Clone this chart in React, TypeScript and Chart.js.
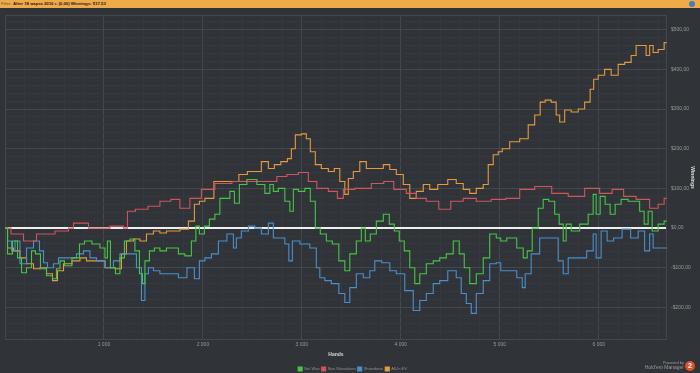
import React, { useEffect, useRef } from "react";
import { Chart, registerables } from "chart.js";

Chart.register(...registerables);

// [hands, winnings $]
const netWon: [number, number][] = [
  [0, 0], [51, -65], [101, -32.5], [152, -75], [182, -112.5], [253, -100], [283, -57.5], [333, -65],
  [384, -102.5], [455, -120], [505, -127.5], [535, -102.5], [576, -82.5], [626, -95], [727, -75],
  [778, -40], [828, -32.5], [929, -40], [990, -50], [1030, -75], [1040, -32.5], [1091, -100],
  [1141, -115], [1182, -75], [1232, -32.5], [1293, -27.5], [1333, -57.5], [1384, -115], [1394, -140],
  [1434, -82.5], [1485, -57.5], [1535, -50], [1596, -57.5], [1667, -50], [1717, -50], [1788, -65],
  [1848, -70], [1919, -32.5], [1939, 5], [1990, -15], [2040, 5], [2091, 22.5], [2151, 35], [2192, 75],
  [2252, 75], [2293, 92.5], [2343, 62.5], [2394, 110], [2495, 122.5], [2596, 110], [2656, 87.5],
  [2697, 110], [2727, 92.5], [2798, 100], [2858, 67.5], [2899, 42.5], [2929, 97.5], [3000, 92.5],
  [3060, 100], [3111, 67.5], [3161, 0], [3212, -15], [3283, -32.5], [3333, -40], [3414, -82.5],
  [3454, -107.5], [3515, -65], [3586, -32.5], [3616, 0], [3666, -32.5], [3717, -15], [3788, 17.5],
  [3858, 35], [3909, 10], [3959, -7.5], [4010, -32.5], [4060, -57.5], [4121, -100], [4161, -140],
  [4222, -115], [4293, -90], [4363, -82.5], [4424, -75], [4495, -65], [4565, -32.5], [4616, -65],
  [4666, -100], [4727, -140], [4798, -115], [4868, -75], [4929, -15], [5000, -25], [5020, -32.5],
  [5121, -25], [5222, -50], [5252, -75], [5303, -57.5], [5353, 0], [5424, 50], [5454, 72.5],
  [5535, 67.5], [5575, 35], [5626, 10], [5656, -32.5], [5686, 10], [5757, -7.5], [5858, 10],
  [5929, 35], [5959, 85], [5989, 35], [6040, 80], [6090, 60], [6141, 35], [6191, 60], [6262, 72.5],
  [6333, 67.5], [6393, 67.5], [6434, 42.5], [6484, 10], [6515, 42.5], [6565, -7.5], [6636, 10],
  [6686, 17.5],
];

const nonShowdown: [number, number][] = [
  [0, 0], [120, -15], [253, -32.5], [384, -15], [626, -7.5], [657, 0], [727, 12.5], [960, 0],
  [1162, 5], [1232, 0], [1242, 42.5], [1394, 47.5], [1495, 55], [1636, 67.5], [1717, 72.5],
  [1818, 50], [1919, 75], [2050, 97.5], [2192, 112.5], [2394, 117.5], [2555, 117.5], [2697, 117.5],
  [2798, 130], [2899, 135], [3030, 140], [3101, 117.5], [3202, 100], [3333, 92.5], [3384, 75],
  [3454, 97.5], [3616, 100], [3788, 112.5], [3868, 117.5], [3990, 97.5], [4121, 87.5], [4192, 75],
  [4323, 67.5], [4444, 47.5], [4565, 67.5], [4697, 75], [4828, 67.5], [5000, 72.5], [5121, 75],
  [5282, 97.5], [5424, 105], [5626, 87.5], [5757, 80], [5959, 100], [6060, 87.5], [6212, 97.5],
  [6292, 80], [6464, 72.5], [6565, 50], [6636, 60], [6686, 75],
];

const showdown: [number, number][] = [
  [0, 0], [51, -32.5], [81, -57.5], [121, -32.5], [182, -90], [253, -50], [323, -32.5], [374, -57.5],
  [404, -87.5], [455, -100], [525, -90], [556, -75], [687, -75], [758, -65], [828, -57.5], [889, -75],
  [960, -82.5], [1061, -100], [1131, -82.5], [1192, -65], [1293, -65], [1364, -100], [1394, -182.5],
  [1434, -115], [1465, -100], [1535, -107.5], [1596, -115], [1717, -115], [1788, -125], [1889, -100],
  [1939, -127.5], [1990, -82.5], [2050, -75], [2121, -65], [2192, -32.5], [2293, -15], [2323, -50],
  [2353, -25], [2424, -7.5], [2495, 5], [2555, 0], [2626, -15], [2697, 12.5], [2727, -25], [2798, -25],
  [2858, -40], [2879, -82.5], [2929, -32.5], [3030, -40], [3131, -50], [3161, -100], [3202, -125],
  [3262, -132.5], [3333, -140], [3414, -165], [3454, -187.5], [3515, -150], [3586, -115], [3656, -125],
  [3717, -107.5], [3757, -82.5], [3858, -87.5], [3919, -107.5], [3990, -115], [4090, -157.5],
  [4161, -207.5], [4222, -182.5], [4293, -165], [4363, -140], [4424, -132.5], [4525, -107.5],
  [4595, -125], [4626, -165], [4697, -190], [4727, -215], [4798, -165], [4868, -132.5], [4929, -90],
  [5000, -87.5], [5020, -107.5], [5121, -107.5], [5222, -125], [5232, -150], [5282, -115], [5353, -65],
  [5454, -25], [5555, -25], [5626, -82.5], [5656, -115], [5727, -75], [5828, -75], [5929, -57.5],
  [5959, -15], [5989, -75], [6060, -7.5], [6110, -32.5], [6191, -25], [6282, -2.5], [6363, -25],
  [6434, -7.5], [6494, -57.5], [6535, -15], [6565, -50], [6690, -50],
];

const allInEV: [number, number][] = [
  [0, 0], [51, -50], [121, -57.5], [182, -75], [253, -90], [323, -102.5], [384, -100], [455, -115],
  [505, -132.5], [556, -107.5], [626, -90], [727, -82.5], [788, -75], [859, -82.5], [960, -82.5],
  [1061, -100], [1162, -102.5], [1192, -65], [1263, -32.5], [1333, -27.5], [1394, -32.5], [1465, -15],
  [1535, -7.5], [1596, -12.5], [1667, -7.5], [1717, -7.5], [1818, -2.5], [1889, 17.5], [1939, 60],
  [1990, 67.5], [2050, 75], [2172, 117.5], [2242, 117.5], [2323, 117.5], [2404, 135], [2495, 142.5],
  [2555, 142.5], [2626, 167.5], [2697, 150], [2747, 160], [2828, 167.5], [2879, 175], [2909, 200],
  [2959, 235], [3030, 237.5], [3060, 225], [3111, 192.5], [3161, 160], [3232, 150], [3303, 142.5],
  [3353, 150], [3414, 117.5], [3454, 85], [3485, 125], [3555, 142.5], [3616, 167.5], [3687, 150],
  [3788, 150], [3858, 160], [3919, 147.5], [3990, 135], [4060, 110], [4121, 75], [4192, 92.5],
  [4262, 110], [4323, 97.5], [4424, 110], [4525, 122.5], [4595, 112.5], [4666, 97.5], [4727, 87.5],
  [4798, 100], [4868, 110], [4899, 160], [4969, 185], [5000, 192.5], [5050, 200], [5151, 217.5],
  [5252, 225], [5323, 260], [5383, 285], [5434, 317.5], [5484, 322.5], [5555, 317.5], [5585, 285],
  [5626, 267.5], [5686, 297.5], [5757, 292.5], [5828, 300], [5888, 317.5], [5939, 350], [5959, 375],
  [6030, 385], [6090, 400], [6161, 385], [6232, 412.5], [6292, 417.5], [6363, 435], [6393, 460],
  [6464, 460], [6494, 435], [6535, 460], [6565, 442.5], [6636, 450], [6686, 467.5],
];

const seriesNames = ["Net Won", "Non Showdown", "Showdown", "All-In EV"];
const seriesColors = ["#45c745", "#d0555c", "#4a90cc", "#e59a3e"];
const xMin = 0;
const xMax = 6690;
const yMin = -282;
const yMax = 537;

const BG = "#303338";
const MAJOR = "#43474e";
const MINOR = "#35383e";

function fmtMoney(v: number) {
  return (v < 0 ? "-$" : "$") + Math.abs(v) + ",00";
}

export default function App() {
  const ref = useRef<HTMLCanvasElement | null>(null);
  useEffect(() => {
    if (!ref.current) return;
    const all = [netWon, nonShowdown, showdown, allInEV];
    const frame = {
      id: "frame",
      beforeDatasetsDraw(chart: any) {
        const { ctx, chartArea: a } = chart;
        ctx.save();
        ctx.strokeStyle = MAJOR;
        ctx.lineWidth = 1;
        ctx.strokeRect(a.left + 0.5, a.top + 0.5, a.right - a.left - 1, a.bottom - a.top - 1);
        ctx.restore();
      },
    };
    const chart = new Chart(ref.current, {
      type: "line",
      data: {
        datasets: all.map((s, i) => ({
          label: seriesNames[i],
          data: s.map(([x, y]) => ({ x, y })),
          borderColor: seriesColors[i],
          backgroundColor: seriesColors[i],
          borderWidth: 1.1,
          pointRadius: 0,
          stepped: "middle",
          fill: false,
        })),
      },
      plugins: [frame],
      options: {
        animation: false,
        responsive: false,
        devicePixelRatio: 1,
        layout: { padding: { top: 4, left: 5, right: 0, bottom: 0 } },
        plugins: {
          tooltip: { enabled: false },
          legend: {
            position: "bottom",
            labels: {
              boxWidth: 4,
              boxHeight: 4,
              padding: 2,
              color: "#8f8f8f",
              font: { size: 4, family: "Liberation Sans" },
            },
          },
        },
        scales: {
          x: {
            type: "linear",
            min: xMin,
            max: xMax,
            afterBuildTicks: (s: any) => {
              const t = [];
              for (let v = 0; v <= xMax; v += 200) t.push({ value: v });
              s.ticks = t;
            },
            afterFit: (s: any) => {
              s.height = 25;
            },
            ticks: {
              autoSkip: false,
              maxRotation: 0,
              padding: 2,
              color: "#9a9a9a",
              font: { size: 5, family: "Liberation Sans" },
              callback: (v: any) => (v > 0 && v % 1000 === 0 ? `${v / 1000} 000` : ""),
            },
            grid: {
              color: (c: any) => (c.tick && c.tick.value % 1000 === 0 ? MAJOR : MINOR),
              drawTicks: false,
            },
            border: { display: false },
            title: {
              display: true,
              text: "Hands",
              color: "#d8d8d8",
              font: { size: 5, weight: "bold", family: "Liberation Sans" },
              padding: { top: 0, bottom: 7 },
            },
          },
          y: {
            type: "linear",
            position: "right",
            min: yMin,
            max: yMax,
            afterBuildTicks: (s: any) => {
              const t = [];
              for (let v = -280; v <= yMax; v += 20) t.push({ value: v });
              s.ticks = t;
            },
            afterFit: (s: any) => {
              s.width = 33;
            },
            ticks: {
              autoSkip: false,
              padding: 4,
              color: "#9a9a9a",
              font: { size: 5, family: "Liberation Sans" },
              callback: (v: any) => (v % 100 === 0 ? fmtMoney(v) : ""),
            },
            grid: {
              color: (c: any) => {
                const v = c.tick ? c.tick.value : 1;
                if (v === 0) return "#eeeeee";
                return v % 100 === 0 ? MAJOR : MINOR;
              },
              lineWidth: (c: any) => (c.tick && c.tick.value === 0 ? 2 : 1),
              drawTicks: false,
            },
            border: { display: false },
            title: {
              display: true,
              text: "Winnings",
              color: "#d8d8d8",
              font: { size: 5, weight: "bold", family: "Liberation Sans" },
              padding: { top: 5, bottom: 0 },
            },
          },
        },
      },
    } as any);
    return () => chart.destroy();
  }, []);

  return (
    <div
      style={{
        position: "fixed",
        left: 0,
        top: 0,
        width: 700,
        height: 373,
        background: BG,
        overflow: "hidden",
        fontFamily: "Liberation Sans, sans-serif",
      }}
    >
      <div
        style={{
          position: "absolute",
          left: 0,
          top: 0,
          width: 700,
          height: 8,
          background: "#f0aa48",
          fontSize: 4.3,
          lineHeight: "8px",
          color: "#222",
          paddingLeft: 1,
          whiteSpace: "nowrap",
        }}
      >
        <span style={{ color: "#555" }}>Filter: </span>
        <b>After 18 марта 2016 г. (0,00) Winnings: $17,53</b>
        <span
          style={{
            position: "absolute",
            right: 6,
            top: 1,
            width: 6,
            height: 6,
            borderRadius: 3,
            background: "#3d7fc0",
          }}
        />
      </div>
      <canvas ref={ref} width={700} height={373} style={{ position: "absolute", left: 0, top: 8 }} />
      <div
        style={{
          position: "absolute",
          right: 16,
          top: 360,
          textAlign: "right",
          color: "#9a9a9a",
          fontSize: 4,
          lineHeight: "5px",
        }}
      >
        Powered by
        <br />
        <span style={{ fontSize: 5 }}>Hold'em Manager</span>
      </div>
      <div
        style={{
          position: "absolute",
          left: 685,
          top: 361,
          width: 10,
          height: 10,
          borderRadius: 5,
          background: "#e0502a",
          color: "#fff",
          fontSize: 7,
          lineHeight: "10px",
          textAlign: "center",
          fontWeight: "bold",
        }}
      >
        2
      </div>
    </div>
  );
}
